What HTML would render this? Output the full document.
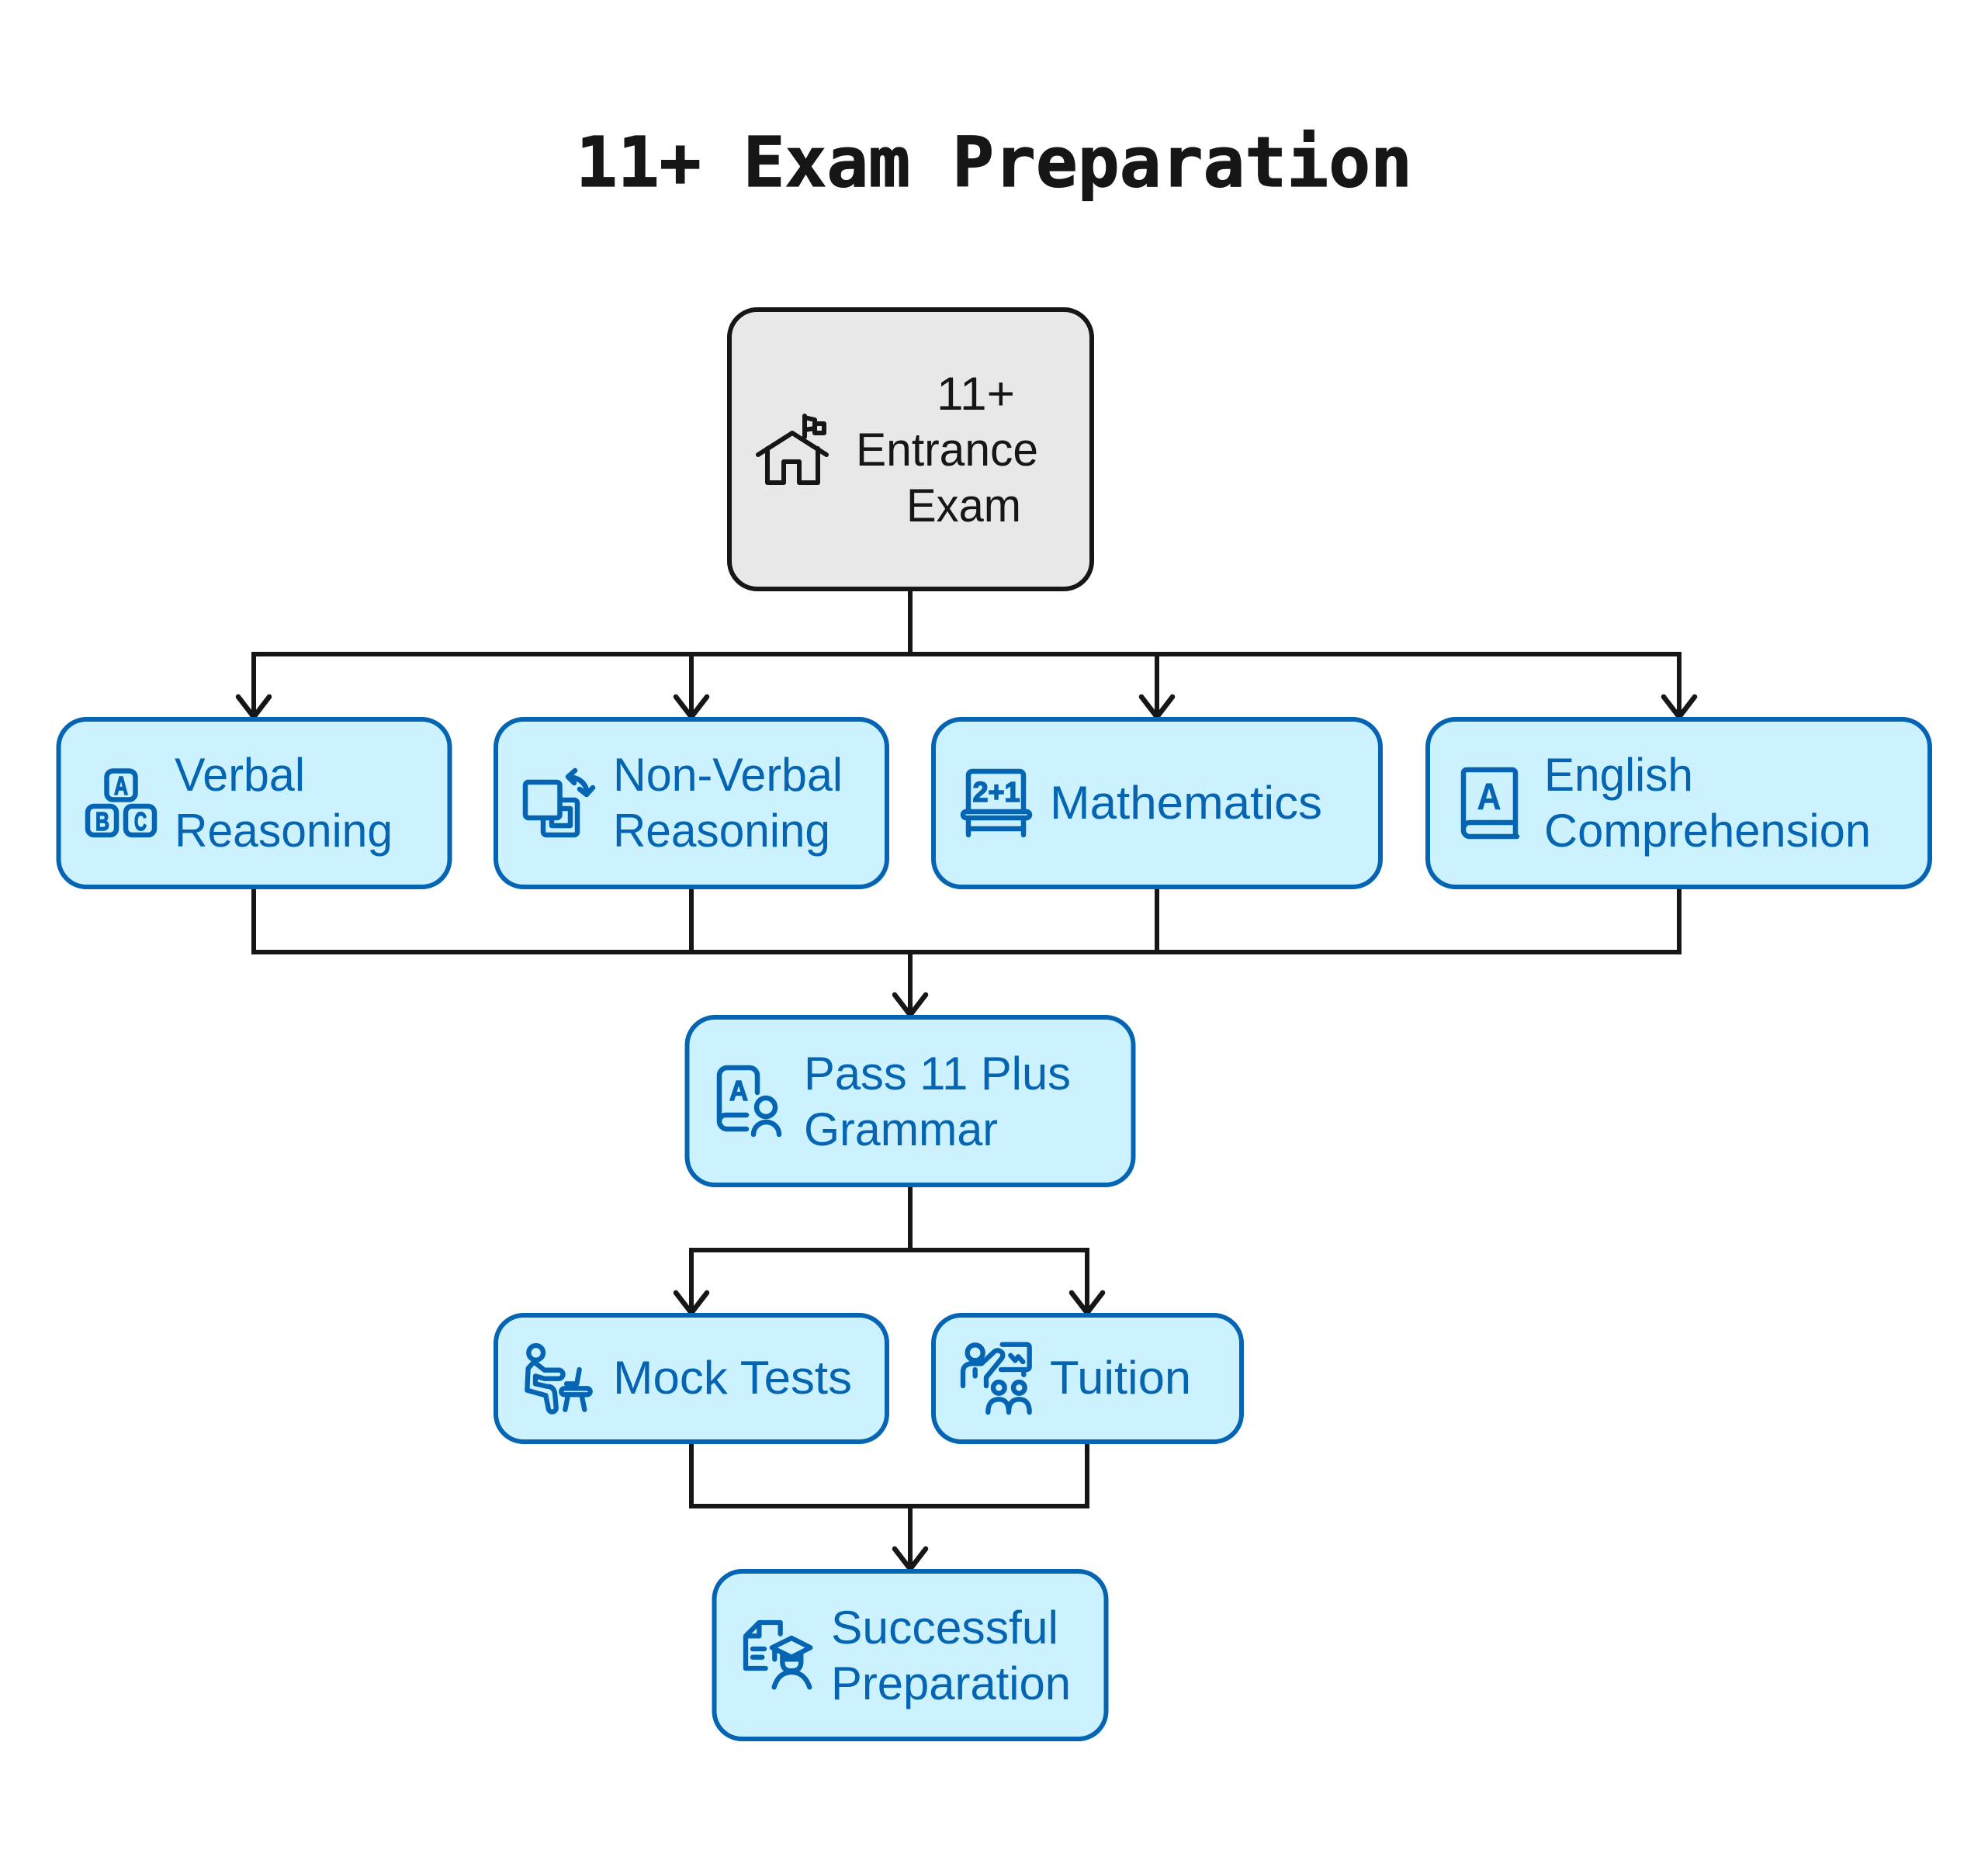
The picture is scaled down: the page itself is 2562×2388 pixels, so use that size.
<!DOCTYPE html>
<html lang="en"><head><meta charset="utf-8"><title>11+ Exam Preparation</title>
<style>
html,body{margin:0;padding:0;background:#fff;width:2562px;height:2388px;overflow:hidden}
svg{display:block}
.t{font-family:"Liberation Sans",sans-serif;font-size:60px;fill:#0565b2}
.r{fill:#161616}
.n{fill:#ccf1ff;stroke:#0565b2;stroke-width:6}
.c{fill:none;stroke:#161616;stroke-width:6;stroke-linecap:square;stroke-linejoin:miter}
.a{fill:none;stroke:#161616;stroke-width:6.5;stroke-linecap:round;stroke-linejoin:miter}
.i{fill:none;stroke:#0565b2;stroke-linecap:round;stroke-linejoin:round}
.l{font-family:"Liberation Sans",sans-serif;font-weight:bold;fill:#0565b2;stroke:#0565b2;stroke-width:1.5;text-anchor:middle}
</style></head><body>
<svg width="2562" height="2388" viewBox="0 0 2562 2388" xmlns="http://www.w3.org/2000/svg">
<rect width="2562" height="2388" fill="#fff"/>
<text x="742" y="240" font-family="'DejaVu Sans Mono',monospace" font-weight="bold" font-size="89" fill="#161616" stroke="#161616" stroke-width="1.2" textLength="1078" lengthAdjust="spacingAndGlyphs">11+ Exam Preparation</text>

<!-- connectors -->
<path class="c" d="M1173 761V843M327 843H2164M327 843V920M891 843V920M1491 843V920M2164 843V920"/>
<path class="c" d="M327 1146V1227H2164V1146M891 1146V1227M1491 1146V1227M1173 1227V1304"/>
<path class="c" d="M1173 1529V1611M891 1611H1401M891 1611V1687M1401 1611V1687"/>
<path class="c" d="M891 1860V1941H1401V1860M1173 1941V2018"/>
<g class="a">
<path d="M307 898L327 924L347 898"/><path d="M871 898L891 924L911 898"/><path d="M1471 898L1491 924L1511 898"/><path d="M2144 898L2164 924L2184 898"/>
<path d="M1153 1282L1173 1308L1193 1282"/>
<path d="M871 1666L891 1692L911 1666"/><path d="M1381 1666L1401 1692L1421 1666"/>
<path d="M1153 1996L1173 2022L1193 1996"/>
</g>

<!-- root -->
<rect x="940" y="399" width="467" height="360" rx="36" fill="#e8e8e8" stroke="#161616" stroke-width="6"/>
<text class="t r" x="1207" y="528" textLength="101" lengthAdjust="spacingAndGlyphs">11+</text>
<text class="t r" x="1103" y="600" textLength="235" lengthAdjust="spacingAndGlyphs">Entrance</text>
<text class="t r" x="1168" y="672" textLength="148" lengthAdjust="spacingAndGlyphs">Exam</text>
<g fill="none" stroke="#161616" stroke-width="6" stroke-linecap="round" stroke-linejoin="round">
<path d="M977 586L1021 558L1065 586M989 578V622H1010V595H1030V622H1054V578"/>
<path d="M1037 536V563M1037 538L1050 541V552L1037 554M1050 546H1062V558H1050Z"/>
</g>

<!-- Verbal -->
<rect class="n" x="75.5" y="927" width="504" height="216" rx="36"/>
<text class="t" x="225" y="1019" textLength="168" lengthAdjust="spacingAndGlyphs">Verbal</text>
<text class="t" x="225" y="1091" textLength="281" lengthAdjust="spacingAndGlyphs">Reasoning</text>
<g class="i" stroke-width="6.5">
<rect x="137.5" y="993.5" width="37" height="37" rx="8"/><rect x="113" y="1039" width="37" height="37" rx="8"/><rect x="162" y="1039" width="37" height="37" rx="8"/>
</g>
<text class="l" x="156" y="1024" font-size="33" textLength="18" lengthAdjust="spacingAndGlyphs">A</text><text class="l" x="132" y="1070" font-size="33" textLength="18" lengthAdjust="spacingAndGlyphs">B</text><text class="l" x="181" y="1070" font-size="33" textLength="16" lengthAdjust="spacingAndGlyphs">C</text>

<!-- Non-Verbal -->
<rect class="n" x="639" y="927" width="504" height="216" rx="36"/>
<text class="t" x="790" y="1019" textLength="296" lengthAdjust="spacingAndGlyphs">Non-Verbal</text>
<text class="t" x="790" y="1091" textLength="280" lengthAdjust="spacingAndGlyphs">Reasoning</text>
<g class="i" stroke-width="6.5">
<rect x="677" y="1008" width="44.5" height="46" rx="4"/>
<path d="M724 1031H740a4 4 0 0 1 4 4V1072a4 4 0 0 1-4 4H704a4 4 0 0 1-4-4V1057"/>
<path d="M724 1042H735V1064H711V1057"/>
<path d="M741 993L732 1001L740 1009M733 1001Q754 1003 757 1022M747 1017L756 1024L764 1015"/>
</g>

<!-- Mathematics -->
<rect class="n" x="1203" y="927" width="576" height="216" rx="36"/>
<text class="t" x="1353" y="1055" textLength="351" lengthAdjust="spacingAndGlyphs">Mathematics</text>
<g class="i" stroke-width="6.5">
<path d="M1248 1046V999a5 5 0 0 1 5-5H1314a5 5 0 0 1 5 5V1046"/>
<rect x="1241" y="1046" width="86" height="8" rx="4"/>
<path d="M1248 1057V1076M1319 1057V1076M1248 1068H1319"/>
</g>
<text class="l" x="1284" y="1033" font-size="36">2+1</text>

<!-- English -->
<rect class="n" x="1840" y="927" width="647" height="216" rx="36"/>
<text class="t" x="1990" y="1019" textLength="192" lengthAdjust="spacingAndGlyphs">English</text>
<text class="t" x="1990" y="1091" textLength="421" lengthAdjust="spacingAndGlyphs">Comprehension</text>
<g class="i" stroke-width="6.5">
<path d="M1953 1060V996a4 4 0 0 0-4-4H1890a4 4 0 0 0-4 4V1070a8 8 0 0 0 8 8H1955M1886 1068a8 8 0 0 1 8-8H1953V1075"/>
</g>
<text class="l" x="1919" y="1043" font-size="48" style="stroke-width:.5" textLength="31" lengthAdjust="spacingAndGlyphs">A</text>

<!-- Pass -->
<rect class="n" x="885.5" y="1311" width="575" height="216" rx="36"/>
<text class="t" x="1036" y="1404" textLength="344" lengthAdjust="spacingAndGlyphs">Pass 11 Plus</text>
<text class="t" x="1036" y="1476" textLength="250" lengthAdjust="spacingAndGlyphs">Grammar</text>
<g class="i" stroke-width="6.5">
<path d="M976 1408V1386a10 10 0 0 0-10-10H937a10 10 0 0 0-10 10V1445a10 10 0 0 0 10 10H962M927 1445a8 8 0 0 1 8-8H962"/>
<circle cx="987" cy="1427" r="12"/>
<path d="M971 1462a16.5 16 0 0 1 33 0"/>
</g>
<text class="l" x="952" y="1418" font-size="36" textLength="24" lengthAdjust="spacingAndGlyphs">A</text>

<!-- Mock -->
<rect class="n" x="639" y="1695" width="504" height="163" rx="36"/>
<text class="t" x="790" y="1796" textLength="308" lengthAdjust="spacingAndGlyphs">Mock Tests</text>
<g class="i" stroke-width="19" transform="translate(660 1720) scale(.3333)">
<circle cx="92" cy="70" r="28"/>
<path d="M82 108L62 130L58 215L130 235L140 285a14 14 0 0 0 30-3L165 225Q160 200 135 200L90 190L90 160L125 170H180a15 15 0 0 0 0-33H125L90 110"/>
<path d="M260 135L250 190H210"/>
<rect x="190" y="208" width="112" height="24" rx="12"/>
<path d="M215 240L205 290M270 240L280 290"/>
</g>

<!-- Tuition -->
<rect class="n" x="1203" y="1695" width="397" height="163" rx="36"/>
<text class="t" x="1353" y="1796" textLength="182" lengthAdjust="spacingAndGlyphs">Tuition</text>
<g class="i" stroke-width="19" transform="translate(1225 1720) scale(.3333)">
<circle cx="95" cy="70" r="30"/>
<path d="M200 38H295a10 10 0 0 1 10 10V125a10 10 0 0 1-10 10H195M283 140V155"/>
<path d="M232 80L250 100L262 85L280 105"/>
<path d="M48 198V145Q48 115 80 112H120L170 65Q185 55 200 70Q205 85 195 95L138 165V198M95 135V160"/>
<circle cx="187" cy="205" r="22"/><circle cx="265" cy="205" r="22"/>
<path d="M145 300Q145 250 187 250Q225 250 225 300Q225 250 265 250Q305 250 305 300"/>
</g>

<!-- Success -->
<rect class="n" x="920.5" y="2025" width="505" height="216" rx="36"/>
<text class="t" x="1071" y="2118" textLength="293" lengthAdjust="spacingAndGlyphs">Successful</text>
<text class="t" x="1071" y="2190" textLength="309" lengthAdjust="spacingAndGlyphs">Preparation</text>
<g class="i" stroke-width="19" transform="translate(945 2075) scale(.3333)">
<path d="M182 92V48H100L48 100V225H125M100 48V100H48M75 150H120M75 182H112"/>
<path d="M150 145L225 108L298 145L225 182ZM160 150V190"/>
<path d="M190 165V200Q190 235 225 235Q262 235 262 200V165M190 190H262M158 298Q175 240 225 240Q275 240 295 298"/>
</g>
</svg>
</body></html>
